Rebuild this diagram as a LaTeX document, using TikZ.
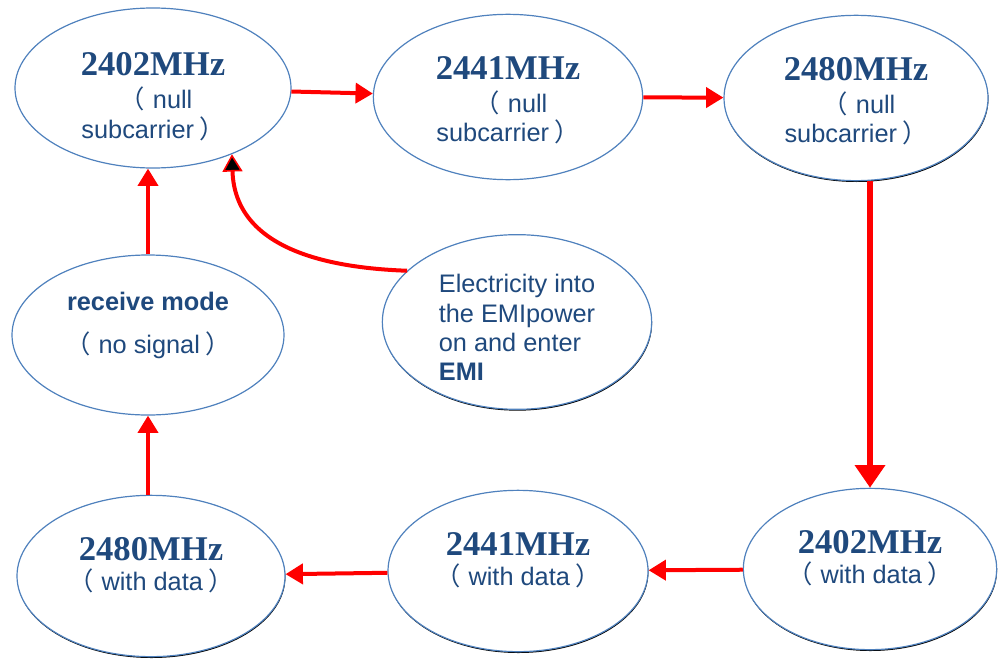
\documentclass[tikz,border=0pt]{standalone}
\usepackage{fontspec}
\setmainfont{Liberation Sans}
\newfontfamily\mhzfont{Liberation Serif}
\newfontfamily\cjk{Noto Sans CJK SC}
\usetikzlibrary{arrows.meta,shapes.geometric,shadows}
\definecolor{stateblue}{RGB}{79,129,189}
\definecolor{statetext}{RGB}{31,73,125}
\newcommand{\mhz}[1]{{\mhzfont\bfseries\fontsize{26}{30}\selectfont #1}}
\newcommand{\lpar}{\hspace{0.25em}{\cjk （}\hspace{0.3em}}
\newcommand{\rpar}{\hspace{0.2em}{\cjk ）}\hspace{0.25em}}
\newcommand{\up}[1]{\rule{0pt}{#1}}
\newcommand{\down}[1]{\rule[-#1]{0pt}{#1}}

\begin{document}
\begin{tikzpicture}[x=0.75pt,y=-0.75pt,
 state/.style={ellipse,draw=stateblue,line width=0.9pt,fill=white,text=statetext,
  inner sep=0pt,align=center,font=\fontsize{19}{22}\selectfont},
 edge shade/.style={drop shadow={fill=black,opacity=1,shadow xshift=0.3pt,shadow yshift=-1pt}},
 flow/.style={red,line width=3pt,-{Triangle[width=15pt,length=13pt]}}]
\useasboundingbox (0,0) rectangle (998,660);
% top row: null subcarrier
\node[state,minimum width=207pt,minimum height=120pt] (e1) at (153,88)
 {\up{30pt}\mhz{2402MHz}\\[3pt]\lpar null\\subcarrier\rpar};
\node[state,minimum width=202pt,minimum height=124pt] (e2) at (508,97)
 {\up{22pt}\mhz{2441MHz}\\[3pt]\lpar null\\subcarrier\rpar};
\node[state,edge shade,minimum width=198pt,minimum height=124pt] (e3) at (856,98)
 {\up{22pt}\mhz{2480MHz}\\[3pt]\lpar null\\subcarrier\rpar};
% middle row
\node[state,minimum width=204pt,minimum height=120pt] (rcv) at (148,335)
 {\textbf{receive mode}\\[10pt]\lpar no signal\rpar\down{18pt}};
\node[state,edge shade,align=left,minimum width=202pt,minimum height=131pt] (elec) at (517,322)
 {\up{22pt}Electricity into\\the EMIpower\\on and enter\\\textbf{EMI}};
% bottom row: with data
\node[state,edge shade,minimum width=201pt,minimum height=121pt] (bl) at (151,576)
 {\mhz{2480MHz}\\[1pt]\lpar with data\rpar\down{18pt}};
\node[state,edge shade,minimum width=195pt,minimum height=121pt] (bm) at (518,571)
 {\mhz{2441MHz}\\[1pt]\lpar with data\rpar\down{18pt}};
\node[state,edge shade,minimum width=190pt,minimum height=121pt] (br) at (870,569)
 {\mhz{2402MHz}\\[1pt]\lpar with data\rpar\down{18pt}};
% cycle
\draw[flow] (e1) -- (e2);
\draw[flow] (e2) -- (e3);
\draw[flow,line width=5pt,-{Triangle[width=22pt,length=17pt]}]
 (e3.south -| br.north) -- (br.north);
\draw[flow] (br) -- (bm);
\draw[flow] (bm) -- (bl);
\draw[flow] (bl.north -| rcv.south) -- (rcv.south);
\draw[flow] (rcv.north) -- (rcv.north |- e1.south);
% power on
\draw[red,line width=3pt,-{Triangle[width=15pt,length=13pt,fill=black,line width=1.2pt]}]
 (elec.155) .. controls (330,268) and (235,250) .. (e1.-40);
\end{tikzpicture}
\end{document}
